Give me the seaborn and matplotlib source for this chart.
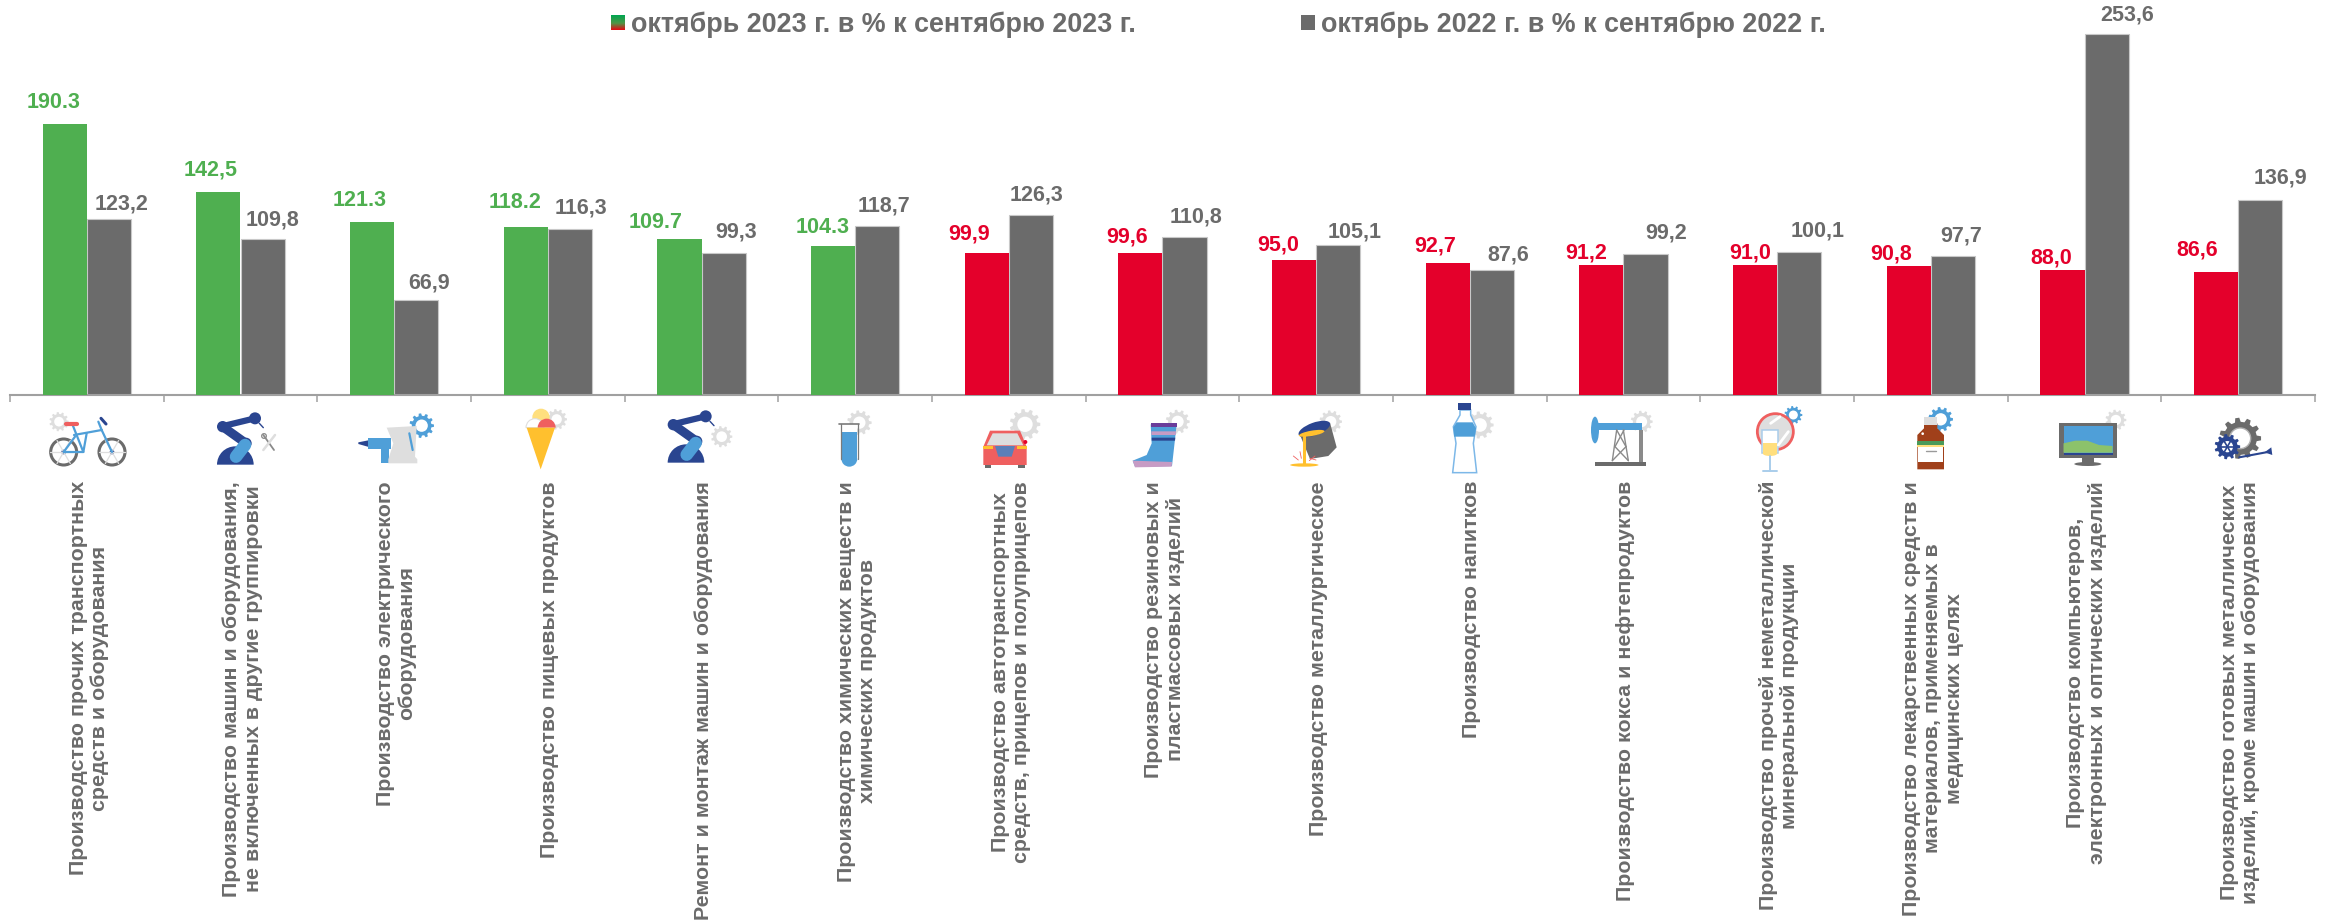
import numpy as np
import pandas as pd
import matplotlib
matplotlib.use("Agg")
import matplotlib.pyplot as plt
import seaborn as sns
from matplotlib.patches import Polygon, Circle, Ellipse, Rectangle, Wedge
from matplotlib.transforms import Affine2D, ScaledTranslation

categories = [
    "Производство прочих транспортных\nсредств и оборудования",
    "Производство машин и оборудования,\nне включенных в другие группировки",
    "Производство электрического\nоборудования",
    "Производство пищевых продуктов",
    "Ремонт и монтаж машин и оборудования",
    "Производство химических веществ и\nхимических продуктов",
    "Производство автотранспортных\nсредств, прицепов и полуприцепов",
    "Производство резиновых и\nпластмассовых изделий",
    "Производство металлургическое",
    "Производство напитков",
    "Производство кокса и нефтепродуктов",
    "Производство прочей неметаллической\nминеральной продукции",
    "Производство лекарственных средств и\nматериалов, применяемых в\nмедицинских целях",
    "Производство компьютеров,\nэлектронных и оптических изделий",
    "Производство готовых металлических\nизделий, кроме машин и оборудования",
]
values_2023 = [190.3, 142.5, 121.3, 118.2, 109.7, 104.3, 99.9, 99.6, 95.0, 92.7, 91.2, 91.0, 90.8, 88.0, 86.6]
values_2022 = [123.2, 109.8, 66.9, 116.3, 99.3, 118.7, 126.3, 110.8, 105.1, 87.6, 99.2, 100.1, 97.7, 253.6, 136.9]
labels_2023 = ["190.3", "142,5", "121.3", "118.2", "109.7", "104.3", "99,9", "99,6", "95,0", "92,7", "91,2", "91,0", "90,8", "88,0", "86,6"]
labels_2022 = ["123,2", "109,8", "66,9", "116,3", "99,3", "118,7", "126,3", "110,8", "105,1", "87,6", "99,2", "100,1", "97,7", "253,6", "136,9"]
series_names = ["октябрь 2023 г. в % к сентябрю 2023 г.", "октябрь 2022 г. в % к сентябрю 2022 г."]

# label placement (px from bar centre / above bar top), as hand-placed in the original
off_2023 = [(-11, 21.5), (-8, 21.5), (-13, 21.5), (-11, 24.5), (-24, 16.5), (-11, 18.5), (-18, 18.5), (-13, 16.5), (-16, 14.5),
            (-13, 16.5), (-15, 12.5), (-5, 12.5), (-18, 11.5), (-11, 11.5), (-19, 21.5)]
off_2022 = [(13, 15.5), (10, 18.5), (13, 16.5), (11, 21.5), (13, 21.5), (7, 19.5), (6, 20.5), (11, 20.5), (16, 13.5),
            (16, 15.5), (21, 20.5), (18, 21.5), (8, 19.5), (21, 18.5), (20, 21.5)]

GREEN, RED, GREY = "#4FAF50", "#E4002B", "#6B6B6B"
AXIS = "#A0A0A0"
W, H = 2330, 921
X0, X1, BASE = 10, 2315, 395
PX_PER_UNIT = 1.425
PT = 0.72

sns.set_theme(style="white")
plt.rcParams["font.family"] = ["Liberation Sans", "DejaVu Sans"]
plt.rcParams["font.weight"] = "bold"

df = pd.DataFrame({
    "cat": categories * 2,
    "value": values_2023 + values_2022,
    "series": [series_names[0]] * 15 + [series_names[1]] * 15,
})

fig = plt.figure(figsize=(W / 100, H / 100), dpi=100, facecolor="white")
ax = fig.add_axes([X0 / W, 1 - BASE / H, (X1 - X0) / W, BASE / H])
ax.patch.set_alpha(0)
sns.barplot(data=df, x="cat", y="value", hue="series", hue_order=series_names,
            palette=[GREEN, GREY], width=0.573, gap=0, dodge=True, saturation=1,
            legend=False, ax=ax, errorbar=None)
ax.set_xlim(-0.5, 14.5)
ax.set_ylim(0, BASE / PX_PER_UNIT)
ax.set_xlabel("")
ax.set_ylabel("")
ax.set_yticks([])
for s in ("top", "left", "right"):
    ax.spines[s].set_visible(False)
ax.spines["bottom"].set_color(AXIS)
ax.spines["bottom"].set_linewidth(1.5)

for bar, v in zip(ax.containers[0], values_2023):
    bar.set_facecolor(GREEN if v >= 100 else RED)
    bar.set_linewidth(0)
    bar.set_zorder(3)
for bar in ax.containers[1]:
    bar.set_edgecolor("#C8C8C8")
    bar.set_linewidth(0.8)
    bar.set_zorder(2)

ax.set_xticks(np.arange(15))
ax.set_xticklabels(categories, rotation=90, ha="center", va="top", multialignment="center",
                   fontsize=15.4, fontweight="bold", color=GREY, linespacing=1.17)
ax.tick_params(axis="x", which="major", length=0, pad=86 * PT)
ax.set_xticks(np.arange(16) - 0.5, minor=True)
ax.tick_params(axis="x", which="minor", length=7 * PT, width=1.1, color=AXIS, direction="out", bottom=True)
nudge = ScaledTranslation(2 / 100, 0, fig.dpi_scale_trans)
for lab in ax.get_xticklabels():
    lab.set_transform(lab.get_transform() + nudge)

for cont, vals, labs, offs, sgn in ((ax.containers[0], values_2023, labels_2023, off_2023, 0),
                                    (ax.containers[1], values_2022, labels_2022, off_2022, 1)):
    for bar, v, lab, (dx, dy) in zip(cont, vals, labs, offs):
        col = GREY if sgn else (GREEN if v >= 100 else RED)
        ax.annotate(lab, (bar.get_x() + bar.get_width() / 2, bar.get_height()),
                    xytext=(dx * PT, dy * PT), textcoords="offset points", ha="center", va="center",
                    fontsize=15.5, fontweight="bold", color=col, annotation_clip=False)

# legend -------------------------------------------------------------------
grad = fig.add_axes([611 / W, 1 - 30 / H, 14 / W, 15 / H])
g0, g1, g2 = np.array([0, 166, 81]) / 255, np.array([80, 150, 70]) / 255, np.array([228, 10, 20]) / 255
t = np.linspace(0, 1, 30)[:, None, None]
grad.imshow(np.where(t < .55, g0 + (g1 - g0) * t / .55, g1 + (g2 - g1) * (t - .55) / .45), aspect="auto")
grad.axis("off")
fig.add_artist(Rectangle((1301 / W, 1 - 30 / H), 14 / W, 15 / H, transform=fig.transFigure, fc=GREY, ec="none"))
for x, name in ((631, series_names[0]), (1321, series_names[1])):
    fig.text(x / W, 1 - 25 / H, name, ha="left", va="center", fontsize=19.4, fontweight="bold", color=GREY)

# icons (decorative pictograms under the axis) -----------------------------
ov = fig.add_axes([0, 0, 1, 1], zorder=5)
ov.set_xlim(0, W)
ov.set_ylim(H, 0)
ov.axis("off")
ov.patch.set_alpha(0)
LG, LB, DB, COR, YEL = "#DEDEDE", "#4F9FD8", "#2A4590", "#EF5F5F", "#FFC02E"


class Pen:
    def __init__(self, ox, oy=390, sx=3.0, sy=3.0):
        self.T = Affine2D().scale(1 / sx, 1 / sy).translate(ox, oy) + ov.transData

    def add(self, p):
        p.set_transform(self.T)
        p.set_clip_on(False)
        ov.add_patch(p)

    def poly(self, pts, fc, ec="none", lw=0):
        self.add(Polygon(pts, closed=True, fc=fc, ec=ec, lw=lw))

    def circ(self, x, y, r, fc, ec="none", lw=0):
        self.add(Circle((x, y), r, fc=fc, ec=ec, lw=lw))

    def ell(self, x, y, w, h, fc, ang=0, ec="none", lw=0):
        self.add(Ellipse((x, y), w, h, angle=ang, fc=fc, ec=ec, lw=lw))

    def rect(self, x0, y0, x1, y1, fc, ec="none", lw=0):
        self.add(Rectangle((x0, y0), x1 - x0, y1 - y0, fc=fc, ec=ec, lw=lw))

    def line(self, x0, y0, x1, y1, c, lw):
        pts = self.T.transform([(x0, y0), (x1, y1)])
        inv = ov.transData.inverted().transform(pts)
        ov.plot(inv[:, 0], inv[:, 1], color=c, lw=lw, solid_capstyle="round", clip_on=False)

    def gear(self, x, y, r, c=LG, n=11):
        pts = []
        for k in range(n):
            a = 2 * np.pi * k / n
            st = 2 * np.pi / n
            for da, rr in ((-.30, .8), (-.17, 1), (.17, 1), (.30, .8)):
                pts.append((x + r * rr * np.cos(a + da * st), y + r * rr * np.sin(a + da * st)))
        self.poly(pts, c)
        self.circ(x, y, r * .5, "white")

    def robot(self, dx, dy):
        f = lambda a, b: (a + dx, b + dy)
        self.add(Wedge(f(706, 224), 55, 180, 360, fc=DB, ec="none"))
        self.line(*f(670, 108), *f(765, 85), DB, 4.5)
        self.line(*f(668, 110), *f(738, 160), DB, 6.5)
        self.line(*f(708, 200), *f(735, 165), LB, 9)
        self.circ(*f(738, 160), 17, DB)
        self.circ(*f(668, 110), 17, DB)
        self.circ(*f(668, 110), 9, LB)
        self.circ(*f(765, 85), 18, DB)
        self.line(*f(778, 100), *f(790, 113), DB, 1.0)


# --- panel 1
p = Pen(0)
p.gear(177, 95, 29)
for cx in (191, 336):
    for a in np.arange(0, np.pi, np.pi / 3):
        p.line(cx - 40 * np.cos(a), 186 - 40 * np.sin(a), cx + 40 * np.cos(a), 186 + 40 * np.sin(a), LG, 0.9)
    p.circ(cx, 186, 39, "none", ec="#6B6B6B", lw=2.2)
    p.circ(cx, 186, 7, DB)
for a in ((191, 186, 250, 186), (218, 105, 250, 186), (222, 135, 305, 120), (191, 186, 225, 140),
          (305, 120, 336, 186), (295, 95, 305, 120), (260, 130, 250, 186)):
    p.line(*a, LB, 1.6)
p.line(303, 85, 318, 102, DB, 2.2)
p.line(197, 102, 230, 102, COR, 3)
p.robot(0, 0)
p.line(790, 135, 822, 180, "#8A8A8A", 1.3)
p.line(825, 135, 790, 180, LG, 1.8)
p.circ(792, 138, 7, "white", ec="#8A8A8A", lw=.9)
# drill + kettle
p.gear(1265, 107, 37, LB)
p.poly([(1075, 157), (1110, 150), (1110, 172), (1075, 162)], DB)
p.rect(1105, 145, 1172, 178, LB)
p.rect(1142, 178, 1168, 218, LB)
p.poly([(1160, 113), (1250, 108), (1245, 200), (1252, 208), (1252, 220), (1165, 220), (1165, 208), (1180, 160)], LG)
p.line(1228, 130, 1238, 180, LB, 1.6)

# --- panel 2
p = Pen(500)
p.gear(170, 88, 31)
p.circ(123, 82, 26, "#FFDF7E")
p.add(Wedge((105, 113), 27, 180, 360, fc="white", ec=LG, lw=.8))
p.add(Wedge((140, 113), 27, 180, 360, fc=COR, ec="none"))
p.poly([(80, 113), (165, 113), (122, 238)], YEL)
p.robot(-148, -6)
p.gear(665, 140, 32)
p.gear(1078, 98, 37)
p.rect(1025, 102, 1072, 125, "white")
p.rect(1025, 125, 1072, 208, LB)
p.add(Wedge((1048, 206), 24, 0, 180, fc=LB, ec="none"))
p.line(1024, 102, 1024, 208, "#7A7A7A", .9)
p.line(1073, 102, 1073, 208, "#7A7A7A", .9)
p.line(1017, 102, 1078, 102, "#7A7A7A", 1.2)

# --- panel 3
p = Pen(1000)
p.gear(75, 103, 46)
p.rect(-45, 222, -28, 234, GREY)
p.rect(55, 222, 74, 234, GREY)
p.poly([(-30, 122), (60, 122), (80, 170), (80, 225), (-50, 225), (-50, 170)], COR)
p.poly([(-22, 130), (52, 130), (70, 166), (-40, 166)], LG)
p.poly([(-15, 168), (45, 168), (35, 200), (-5, 200)], "#5B7FB8")
p.rect(52, 168, 80, 178, YEL)
p.rect(-50, 168, -22, 178, YEL)
p.circ(76, 156, 6, RED)
p.gear(533, 95, 36)
p.poly([(452, 103), (530, 103), (516, 228), (405, 230), (398, 212), (440, 195), (455, 160)], LB)
p.poly([(452, 100), (530, 100), (530, 110), (452, 110)], "#6A3D9A")
p.poly([(454, 124), (528, 124), (527, 135), (454, 135)], "#C79BC4")
p.poly([(455, 143), (526, 143), (525, 152), (455, 152)], DB)
p.poly([(398, 212), (516, 216), (515, 230), (405, 232)], "#C79BC4")
p.gear(992, 95, 34)
p.poly([(897, 128), (990, 98), (1010, 172), (985, 198), (930, 207)], GREY)
p.ell(943, 117, 100, 38, DB, ang=-20)
p.ell(935, 130, 78, 16, YEL, ang=-10)
p.line(912, 135, 912, 222, YEL, 2.2)
p.ell(913, 225, 85, 10, YEL)
for a in ((880, 198, 895, 210), (900, 185, 904, 205), (945, 198, 928, 212), (930, 205, 948, 210)):
    p.line(*a, COR, .6)
p.gear(1440, 105, 41)
p.poly([(1380, 60), (1412, 60), (1412, 75), (1428, 110), (1420, 160), (1430, 248), (1358, 248), (1368, 160),
        (1360, 110), (1380, 75)], "white", ec="#7DB8E8", lw=1.1)
p.poly([(1370, 97), (1418, 97), (1428, 115), (1424, 140), (1362, 140), (1360, 112)], LB)
p.rect(1375, 38, 1413, 60, DB)

# --- panel 4
p = Pen(1500)
p.gear(425, 95, 33)
p.ell(285, 120, 24, 80, LB)
p.rect(285, 100, 425, 120, LB)
for a in ((337, 212, 350, 120), (385, 212, 370, 120), (350, 120, 378, 170), (372, 120, 345, 170),
          (345, 170, 385, 212), (378, 170, 337, 212)):
    p.line(*a, "#8A8A8A", 1.0)
p.rect(418, 120, 428, 215, "#8A8A8A")
p.rect(285, 215, 438, 228, GREY)
p.gear(880, 75, 27, LB)
p.circ(826, 125, 54, LG, ec=COR, lw=2)
p.line(812, 100, 840, 80, "white", 2)
p.line(835, 165, 865, 125, "white", 2)
p.rect(787, 120, 833, 190, "white", ec="#A9CDEB", lw=1.1)
p.rect(790, 158, 831, 190, "#FFDF7E")
p.ell(810, 190, 44, 16, "#FFDF7E", ec="none")
p.line(810, 198, 810, 243, "#A9CDEB", 1.4)
p.line(788, 243, 832, 243, "#A9CDEB", 1.4)
p.gear(1322, 88, 37, LB)
p.poly([(1272, 100), (1312, 100), (1312, 115), (1332, 135), (1332, 238), (1252, 238), (1252, 135), (1272, 115)], "#A0401A")
p.rect(1272, 80, 1312, 105, LG)
p.rect(1252, 152, 1332, 165, "#4A9A5A")
p.rect(1252, 165, 1332, 172, "#FFDF7E")
p.rect(1254, 172, 1330, 216, "white")
p.line(1278, 182, 1308, 182, "#9A9A9A", 1)
p.circ(1268, 131, 4, "white")

# --- panel 5
p = Pen(1800, 0, 2.96, 3.0)
p.gear(935, 1260, 31)
p.rect(768, 1268, 937, 1375, GREY)
p.rect(780, 1278, 925, 1358, LB)
p.poly([(780, 1330), (815, 1322), (850, 1322), (885, 1335), (925, 1338), (925, 1358), (780, 1358)], "#8CC26B")
p.rect(780, 1358, 925, 1365, DB)
p.rect(835, 1375, 870, 1390, GREY)
p.ell(852, 1392, 80, 12, GREY)
p.gear(1303, 1315, 62, GREY)
p.circ(1303, 1315, 31, "white", ec="#B0B0B0", lw=1)
p.gear(1265, 1340, 38, DB)
p.circ(1265, 1340, 19, "white", ec=DB, lw=1)
for a in (0, np.pi / 3, 2 * np.pi / 3):
    p.line(1265 - 20 * np.cos(a), 1340 - 20 * np.sin(a), 1265 + 20 * np.cos(a), 1340 + 20 * np.sin(a), DB, 1.2)
p.line(1300, 1372, 1390, 1355, DB, 1.5)
p.poly([(1375, 1357), (1395, 1342), (1398, 1365)], DB)

fig.savefig("out.png", dpi=100, facecolor="white")
